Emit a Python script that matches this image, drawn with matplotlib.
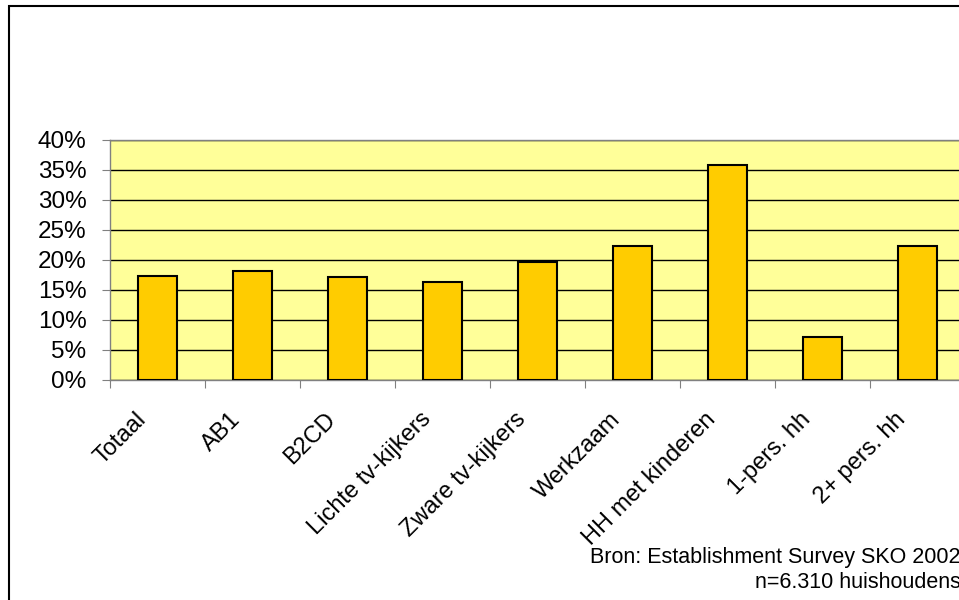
import matplotlib.pyplot as plt
import matplotlib.patches as mpatches
import matplotlib.transforms as mtransforms
from matplotlib.ticker import PercentFormatter

# Data
categories = ["Totaal", "AB1", "B2CD", "Lichte tv-kijkers", "Zware tv-kijkers",
              "Werkzaam", "HH met kinderen", "1-pers. hh", "2+ pers. hh"]
values = [17.4, 18.1, 17.1, 16.4, 19.7, 22.4, 35.8, 7.1, 22.4]
yticks = [0, 5, 10, 15, 20, 25, 30, 35, 40]

plt.rcParams["font.family"] = ["Liberation Sans", "DejaVu Sans"]

fig = plt.figure(figsize=(9.59, 6), dpi=100)

# outer chart border (runs off the right and bottom edges)
border = mpatches.Rectangle((8.5 / 959, -0.1), 1.2, 1 - 5.5 / 600 + 0.1,
                            transform=fig.transFigure, fill=False,
                            edgecolor="black", linewidth=1.5)
fig.patches.append(border)

ax = fig.add_axes([110 / 959, 1 - 380 / 600, 855 / 959, 240 / 600])
ax.set_facecolor("#FFFF99")

x = range(len(categories))
ax.bar(x, values, width=0.41, color="#FFCC00", edgecolor="black",
       linewidth=1.5, zorder=3)

ax.set_xlim(-0.5, len(categories) - 0.5)
ax.set_ylim(0, 40)
ax.set_yticks(yticks)
ax.yaxis.set_major_formatter(PercentFormatter(decimals=0))
ax.grid(axis="y", color="black", linewidth=1, zorder=1)
ax.set_axisbelow(True)

# category boundaries carry the ticks, labels sit at the centres
ax.set_xticks([i - 0.5 for i in x] + [len(categories) - 0.5])
ax.set_xticklabels([])
ax.set_xticks(list(x), minor=True)
ax.set_xticklabels(categories, minor=True, rotation=45, ha="right",
                   va="center", rotation_mode="anchor", fontsize=17)
ax.tick_params(axis="x", which="minor", length=0, pad=26)
ax.tick_params(axis="x", which="major", length=6, color="#808080")
ax.tick_params(axis="y", length=6, color="#808080", labelsize=17.5, pad=11)

# nudge rotated labels a bit to the left, like the original
shift = mtransforms.ScaledTranslation(-15 / 100, 0, fig.dpi_scale_trans)
for lab in ax.get_xticklabels(minor=True):
    lab.set_transform(lab.get_transform() + shift)

for side in ["left", "bottom", "top", "right"]:
    ax.spines[side].set_color("#808080")
    ax.spines[side].set_linewidth(1)

fig.text(961 / 959, 1 - 563 / 600, "Bron: Establishment Survey SKO 2002",
         ha="right", va="baseline", fontsize=15.5)
fig.text(961 / 959, 1 - 588 / 600, "n=6.310 huishoudens",
         ha="right", va="baseline", fontsize=15.5)

fig.savefig("out.png", dpi=100)
